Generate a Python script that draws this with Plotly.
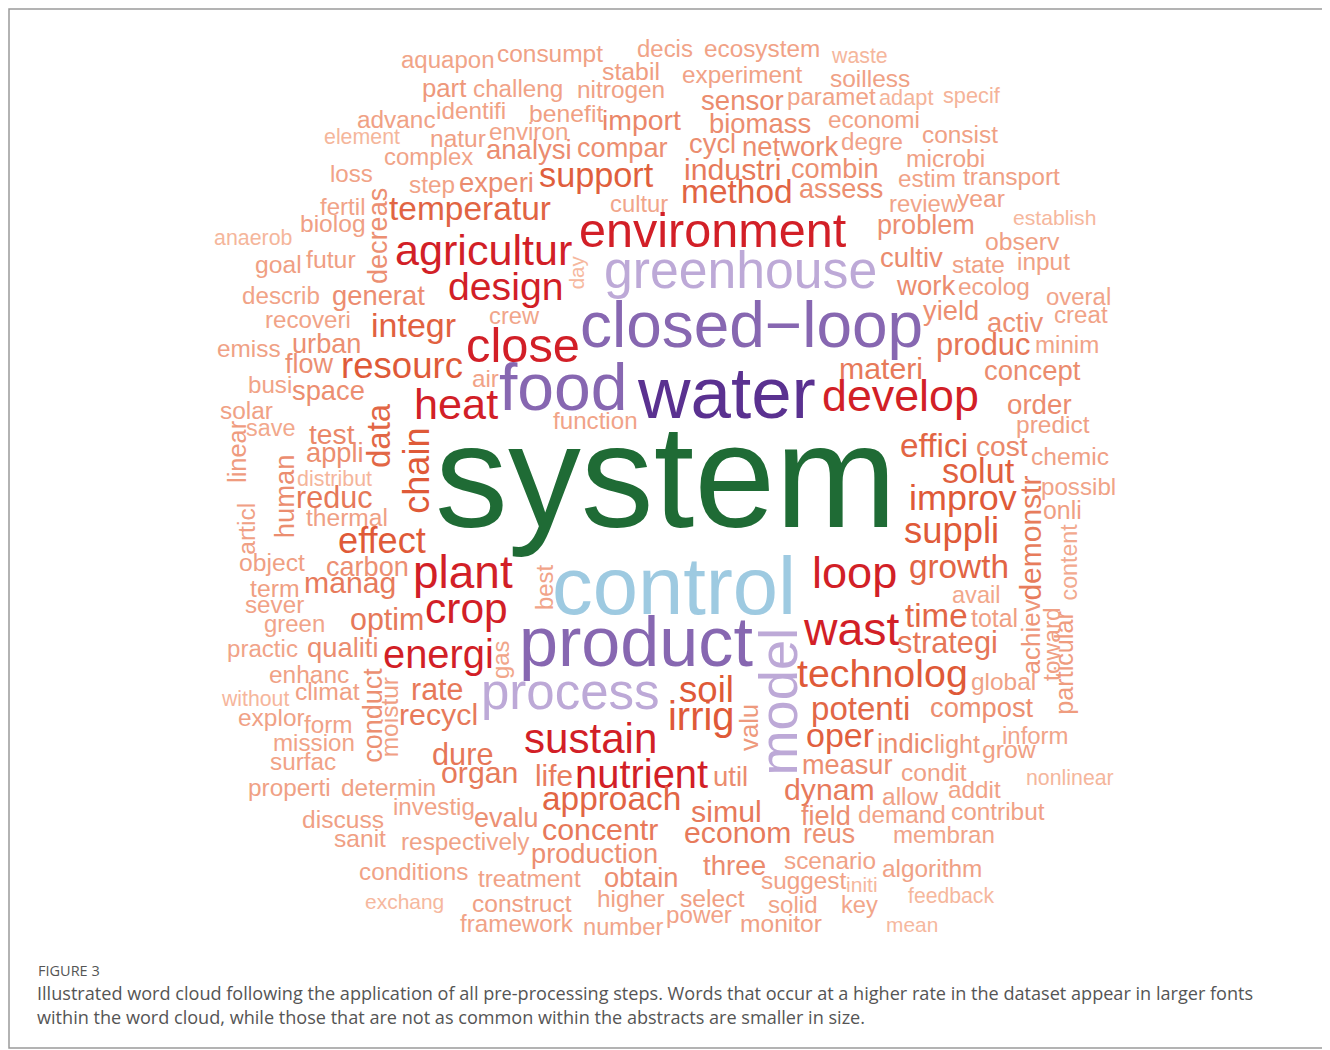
import plotly.graph_objects as go

# ------------------------------------------------------------------
# Word-cloud terms.  Each horizontal entry: (term, ink-left, ink-right, baseline)
# in its own pixel frame (1330 x 1050).
# ------------------------------------------------------------------
TOP_LEFT = [
    ("aquapon", 401.7, 493.3, 68.3), ("consumpt", 497.7, 601.7, 61.7),
    ("decis", 638, 692, 56.7), ("stabil", 603.3, 659.3, 80),
    ("part", 422.7, 465, 96.7), ("challeng", 473.3, 561.7, 96.7),
    ("nitrogen", 577.7, 664, 98.3), ("advanc", 358.3, 435, 128.3),
    ("identifi", 436.7, 505, 119.3), ("benefit", 530, 602.3, 121.7),
    ("import", 603.3, 680, 130), ("element", 325, 399.3, 144.3),
    ("natur", 431, 485, 146.7), ("environ", 489.3, 566.7, 140),
    ("complex", 384.3, 471.7, 165), ("analysi", 487.3, 570.7, 159.5),
    ("compar", 578.3, 666.7, 156.7), ("loss", 330.7, 371.7, 182.3),
    ("step", 410, 454, 193.3), ("experi", 460, 532.7, 191.7),
    ("support", 540.7, 652.3, 186.7), ("fertil", 320.7, 364.3, 215),
    ("temperatur", 390.7, 550, 220), ("cultur", 610.7, 667, 211.7),
    ("biolog", 300.7, 364.3, 231.7), ("anaerob", 215, 291.7, 245),
    ("agricultur", 396.7, 570.7, 265), ("environment", 581.7, 845, 246.7),
    ("goal", 256, 300.7, 273.3), ("futur", 307.3, 355, 268.3),
    ("greenhouse", 606, 875, 288.3), ("describ", 243.3, 319.3, 304),
    ("generat", 332.7, 423.3, 305), ("design", 449.3, 561.7, 300),
    ("recoveri", 266, 350, 328.3), ("integr", 372.7, 455, 337),
    ("crew", 490, 538.3, 323.3), ("closed\u2212loop", 582, 920, 346.7),
]

TOP_RIGHT = [
    ("ecosystem", 705, 819.3, 56.7), ("waste", 832.7, 886.7, 63.3),
    ("experiment", 682.7, 801, 83.3), ("soilless", 831, 909.3, 87.3),
    ("sensor", 701.7, 782.3, 110), ("paramet", 788.3, 875, 105),
    ("adapt", 880, 932.7, 105), ("specif", 944.3, 999.3, 103.3),
    ("biomass", 710, 810, 133.3), ("economi", 829.3, 919.3, 128.3),
    ("cycl", 690, 735, 153.3), ("network", 743.3, 837.3, 156),
    ("degre", 841.7, 901.7, 150), ("consist", 922.7, 996.7, 143.3),
    ("microbi", 906.7, 984, 166.7), ("industri", 685, 780, 180),
    ("combin", 792.3, 877.7, 178.3), ("estim", 899, 955, 186.7),
    ("transport", 964, 1059, 185), ("method", 682.7, 791.7, 203.3),
    ("assess", 800, 882.3, 198.3), ("review", 890, 957.3, 211.7),
    ("year", 958.3, 1004.3, 206.7), ("establish", 1013.3, 1095, 225),
    ("problem", 878.3, 974, 234), ("observ", 986, 1058.3, 250),
    ("cultiv", 881, 941.7, 266.7), ("state", 953.3, 1004.3, 273.3),
    ("input", 1018.3, 1069.3, 270), ("work", 897.3, 953.3, 295),
    ("ecolog", 959, 1029, 295), ("overal", 1046.7, 1110, 305),
    ("yield", 924.3, 978.3, 320), ("activ", 988.3, 1042.3, 331.7),
    ("creat", 1055, 1106.7, 323.3),
]

MID_LEFT = [
    ("emiss", 218.3, 280, 356.7), ("urban", 292.7, 360, 352.7),
    ("close", 467.7, 577.7, 361.7), ("flow", 286.7, 332.7, 373.3),
    ("resourc", 342.7, 461.7, 378.3), ("air", 472.7, 497.7, 386.7),
    ("food", 501.7, 625, 410), ("busi", 248.3, 290.7, 393.3),
    ("space", 293.3, 364, 400), ("heat", 416, 496.7, 419.3),
    ("solar", 220.7, 271.7, 419.3), ("save", 246.7, 294.3, 436),
    ("function", 554, 636.7, 429.3), ("test", 310, 353.3, 443.3),
    ("appli", 307.3, 362.7, 461.7), ("system", 441, 891, 527),
    ("distribut", 297.3, 370.7, 486.7), ("reduc", 296.7, 370.7, 507.3),
    ("thermal", 307.3, 387.3, 526), ("effect", 339.3, 425, 552.7),
    ("object", 240, 304, 570.7), ("carbon", 326.7, 407.3, 576),
    ("plant", 415, 511, 588.3), ("control", 555, 792.7, 613.3),
    ("term", 250.7, 298.3, 596.7), ("manag", 305, 395, 593.3),
    ("sever", 246, 303.3, 613.3), ("green", 265, 324.3, 631.7),
    ("optim", 350.7, 422.7, 630), ("crop", 426.7, 506, 623.3),
]

MID_RIGHT = [
    ("produc", 937.3, 1029.3, 355), ("minim", 1036, 1098.3, 353.3),
    ("materi", 840, 921.7, 379.3), ("concept", 985, 1079.3, 380),
    ("water", 640, 812, 418), ("develop", 824, 977.3, 411),
    ("order", 1008.3, 1070.7, 414.3), ("predict", 1016.7, 1088.3, 433.3),
    ("effici", 900.7, 966.7, 456.7), ("cost", 977.3, 1026.7, 456.7),
    ("chemic", 1032.3, 1108.3, 465), ("solut", 943.3, 1012.7, 482.7),
    ("possibl", 1041.7, 1115, 495), ("improv", 910, 1015, 510),
    ("onli", 1044, 1080.7, 518.3), ("suppli", 905, 997.3, 543.3),
    ("loop", 813.3, 895, 588), ("growth", 910, 1007.3, 578.3),
    ("avail", 952.7, 999.3, 603.3), ("time", 906.7, 966.7, 626.7),
    ("total", 971.7, 1016.7, 626.7), ("wast", 805, 896.7, 645),
    ("strategi", 898.3, 996.7, 653.3),
]

BOTTOM_LEFT = [
    ("practic", 227.7, 296.7, 656.7), ("qualiti", 308.3, 377.7, 656.7),
    ("energi", 385, 492.7, 668.3), ("product", 521.7, 750, 666.7),
    ("enhanc", 270, 348.3, 683.3), ("without", 221.7, 287.3, 706),
    ("climat", 295.7, 358.3, 700), ("rate", 411.7, 461.7, 700),
    ("process", 482.7, 657.3, 709), ("explor", 239.3, 304, 726),
    ("form", 305, 351.7, 732.7), ("recycl", 400, 476.7, 725),
    ("mission", 274, 354, 750.7), ("surfac", 270.7, 335, 770),
    ("sustain", 525, 655, 753.3), ("dure", 433.3, 492.3, 765),
    ("organ", 442.3, 517.3, 783.3), ("life", 536, 571.7, 786),
    ("nutrient", 576, 706, 788.3), ("properti", 249.3, 330, 795.7),
    ("determin", 341.7, 435, 795.7), ("approach", 542.7, 679.3, 810),
    ("investig", 394, 474, 815), ("evalu", 475, 537.3, 827.7),
    ("discuss", 303.3, 383.3, 828.3), ("concentr", 543.3, 657.3, 840),
    ("sanit", 335, 385, 846.7), ("respectively", 401.7, 528.3, 850),
    ("production", 531.7, 656.7, 863.3), ("conditions", 359.3, 466.7, 880),
    ("treatment", 479.3, 580, 886.7), ("obtain", 605, 677.3, 886.7),
    ("exchang", 365.7, 443.3, 908.3), ("construct", 473.3, 571, 911.7),
    ("higher", 598.3, 664, 906.7), ("select", 680.7, 743.3, 906.7),
    ("framework", 461.7, 572.7, 931.7), ("number", 583.3, 661.7, 935),
    ("power", 666.7, 730.7, 923.3),
]

BOTTOM_RIGHT = [
    ("technolog", 798.3, 966, 686.7), ("global", 971.7, 1035, 690),
    ("soil", 680.7, 732.7, 701.7), ("irrig", 670, 733.3, 730),
    ("potenti", 811.7, 908.3, 720), ("compost", 931.7, 1032.7, 717.3),
    ("oper", 807.3, 872.7, 746.7), ("indic", 878.3, 932.7, 753.3),
    ("light", 935, 979, 752.7), ("inform", 1002.7, 1067.3, 743.3),
    ("grow", 983.3, 1035, 758.3), ("util", 714.3, 747.3, 786),
    ("measur", 802.7, 891, 774.3), ("condit", 902.3, 966, 780.7),
    ("nonlinear", 1026.7, 1112.7, 785), ("dynam", 785, 873.3, 800),
    ("allow", 882.7, 936.7, 805), ("addit", 949.3, 1000, 797.7),
    ("simul", 692.3, 760.7, 821.7), ("field", 801.7, 849.3, 825),
    ("demand", 859.3, 945, 823.3), ("contribut", 951.7, 1043.3, 820),
    ("econom", 685, 790, 843.3), ("reus", 804, 854, 843.3),
    ("membran", 894, 994, 843.3), ("three", 704, 765, 875),
    ("scenario", 785, 875, 869.3), ("algorithm", 882.3, 980.7, 876.7),
    ("suggest", 761.7, 845, 889.3), ("initi", 846.7, 876.7, 891.7),
    ("feedback", 908.3, 992.7, 903.3), ("solid", 769, 816.7, 913.3),
    ("key", 841.7, 876.7, 913.3), ("monitor", 740.7, 820.7, 931.7),
    ("mean", 886.7, 937.3, 931.7),
]

# vertical terms: (term, ink-top, ink-bottom, baseline x)
VERTICAL = [
    ("decreas", 189.3, 283.3, 388), ("day", 256.7, 288.3, 584),
    ("linear", 421.7, 481.7, 245), ("data", 405, 466.7, 390.7),
    ("chain", 429.3, 512.7, 428.3), ("human", 455, 536.7, 294),
    ("articl", 503.3, 553.3, 255), ("best", 565, 608.3, 552.7),
    ("conduct", 669.3, 761.7, 381.7), ("moistur", 678.3, 756.7, 398.3),
    ("gas", 641.7, 678.3, 508.3), ("model", 630, 773.3, 796.7),
    ("valu", 705, 750, 757.3), ("demonstr", 476.7, 599.3, 1040),
    ("achiev", 600, 673.3, 1040), ("content", 525, 599.3, 1077.3),
    ("toward", 608.3, 680, 1059.3), ("particular", 611.7, 713.3, 1072),
]

# most frequent terms (own colours)
TOP_TERMS = {
    "system": "#1f6b35", "control": "#9ecae1", "water": "#5a3190",
    "closed\u2212loop": "#8767b1", "food": "#8767b1", "product": "#8767b1",
    "greenhouse": "#bda9d7", "process": "#bda9d7", "model": "#bda9d7",
}
RED_TERMS = ["environment", "agricultur", "design", "close", "heat", "develop",
             "plant", "crop", "energi", "loop", "wast", "sustain", "nutrient"]

CAPTION_TITLE = "FIGURE 3"
CAPTION_LINES = [
    "Illustrated word cloud following the application of all pre-processing steps. "
    "Words that occur at a higher rate in the dataset appear in larger fonts",
    "within the word cloud, while those that are not as common within the abstracts "
    "are smaller in size.",
]

# ------------------------------------------------------------------
PAGE_MARGIN = 8          # default body margin of the html page
W, H = 1330, 1050
FONT = "Liberation Sans, Arial, Helvetica, sans-serif"
ADV = {"a": .556, "b": .556, "c": .5, "d": .556, "e": .556, "f": .278, "g": .556,
       "h": .556, "i": .222, "j": .222, "k": .5, "l": .222, "m": .833, "n": .556,
       "o": .556, "p": .556, "q": .556, "r": .333, "s": .5, "t": .278, "u": .556,
       "v": .5, "w": .722, "x": .5, "y": .5, "z": .5, "\u2212": .584}
RED = "#d21f27"
ORANGE = (0xdf, 0x5a, 0x38)
SALMON = (0xf6, 0xb8, 0x9e)


def ink_em(word):
    return sum(ADV.get(c, .556) for c in word) - 0.08


def colour(word, size):
    if word in TOP_TERMS:
        return TOP_TERMS[word]
    if word in RED_TERMS:
        return RED
    t = min(1.0, max(0.0, (size - 21.0) / (35.0 - 21.0)))
    rgb = tuple(round(s + (o - s) * t) for s, o in zip(SALMON, ORANGE))
    return "rgb(%d,%d,%d)" % rgb


def px(page_x):
    return (page_x - PAGE_MARGIN) / W


def py(page_y):
    return 1 - (page_y - PAGE_MARGIN) / H


annotations = []
for group in (TOP_LEFT, TOP_RIGHT, MID_LEFT, MID_RIGHT, BOTTOM_LEFT, BOTTOM_RIGHT):
    for word, left, right, base in group:
        size = (right - left) / ink_em(word)
        annotations.append(dict(
            x=(left + right) / 2, y=base - 0.3465 * size, xref="x", yref="y",
            text=word, showarrow=False, xanchor="center", yanchor="middle",
            font=dict(family=FONT, size=size, color=colour(word, size))))

for word, top, bottom, base in VERTICAL:
    size = (bottom - top) / ink_em(word)
    annotations.append(dict(
        x=base - 0.3465 * size, y=(top + bottom) / 2, xref="x", yref="y",
        text=word, showarrow=False, xanchor="center", yanchor="middle",
        textangle=-90,
        font=dict(family=FONT, size=size, color=colour(word, size))))

CAP_FONT = "Open Sans, Noto Sans, sans-serif"
annotations.append(dict(x=px(36), y=py(970), xref="paper", yref="paper",
                        text=CAPTION_TITLE, showarrow=False, xanchor="left",
                        yanchor="middle",
                        font=dict(family=CAP_FONT, size=14.5, color="#555555")))
for i, line in enumerate(CAPTION_LINES):
    annotations.append(dict(x=px(35), y=py(993 + 24 * i), xref="paper",
                            yref="paper", text=line, showarrow=False, xanchor="left",
                            yanchor="middle",
                            font=dict(family=CAP_FONT, size=18.1, color="#555555")))

fig = go.Figure()
fig.add_trace(go.Scatter(x=[PAGE_MARGIN, W], y=[PAGE_MARGIN, H], mode="markers",
                         marker=dict(opacity=0), hoverinfo="skip", showlegend=False))
fig.update_layout(
    width=W, height=H, autosize=False,
    margin=dict(l=0, r=0, t=0, b=0),
    paper_bgcolor="white", plot_bgcolor="white",
    xaxis=dict(range=[PAGE_MARGIN, W + PAGE_MARGIN], visible=False, fixedrange=True),
    yaxis=dict(range=[H + PAGE_MARGIN, PAGE_MARGIN], visible=False, fixedrange=True),
    annotations=annotations,
    shapes=[dict(type="rect", xref="paper", yref="paper",
                 x0=px(9), x1=px(1326), y0=py(1048), y1=py(9),
                 line=dict(color="#9a9a9a", width=1.5))],
)
fig.write_html("out.html")
